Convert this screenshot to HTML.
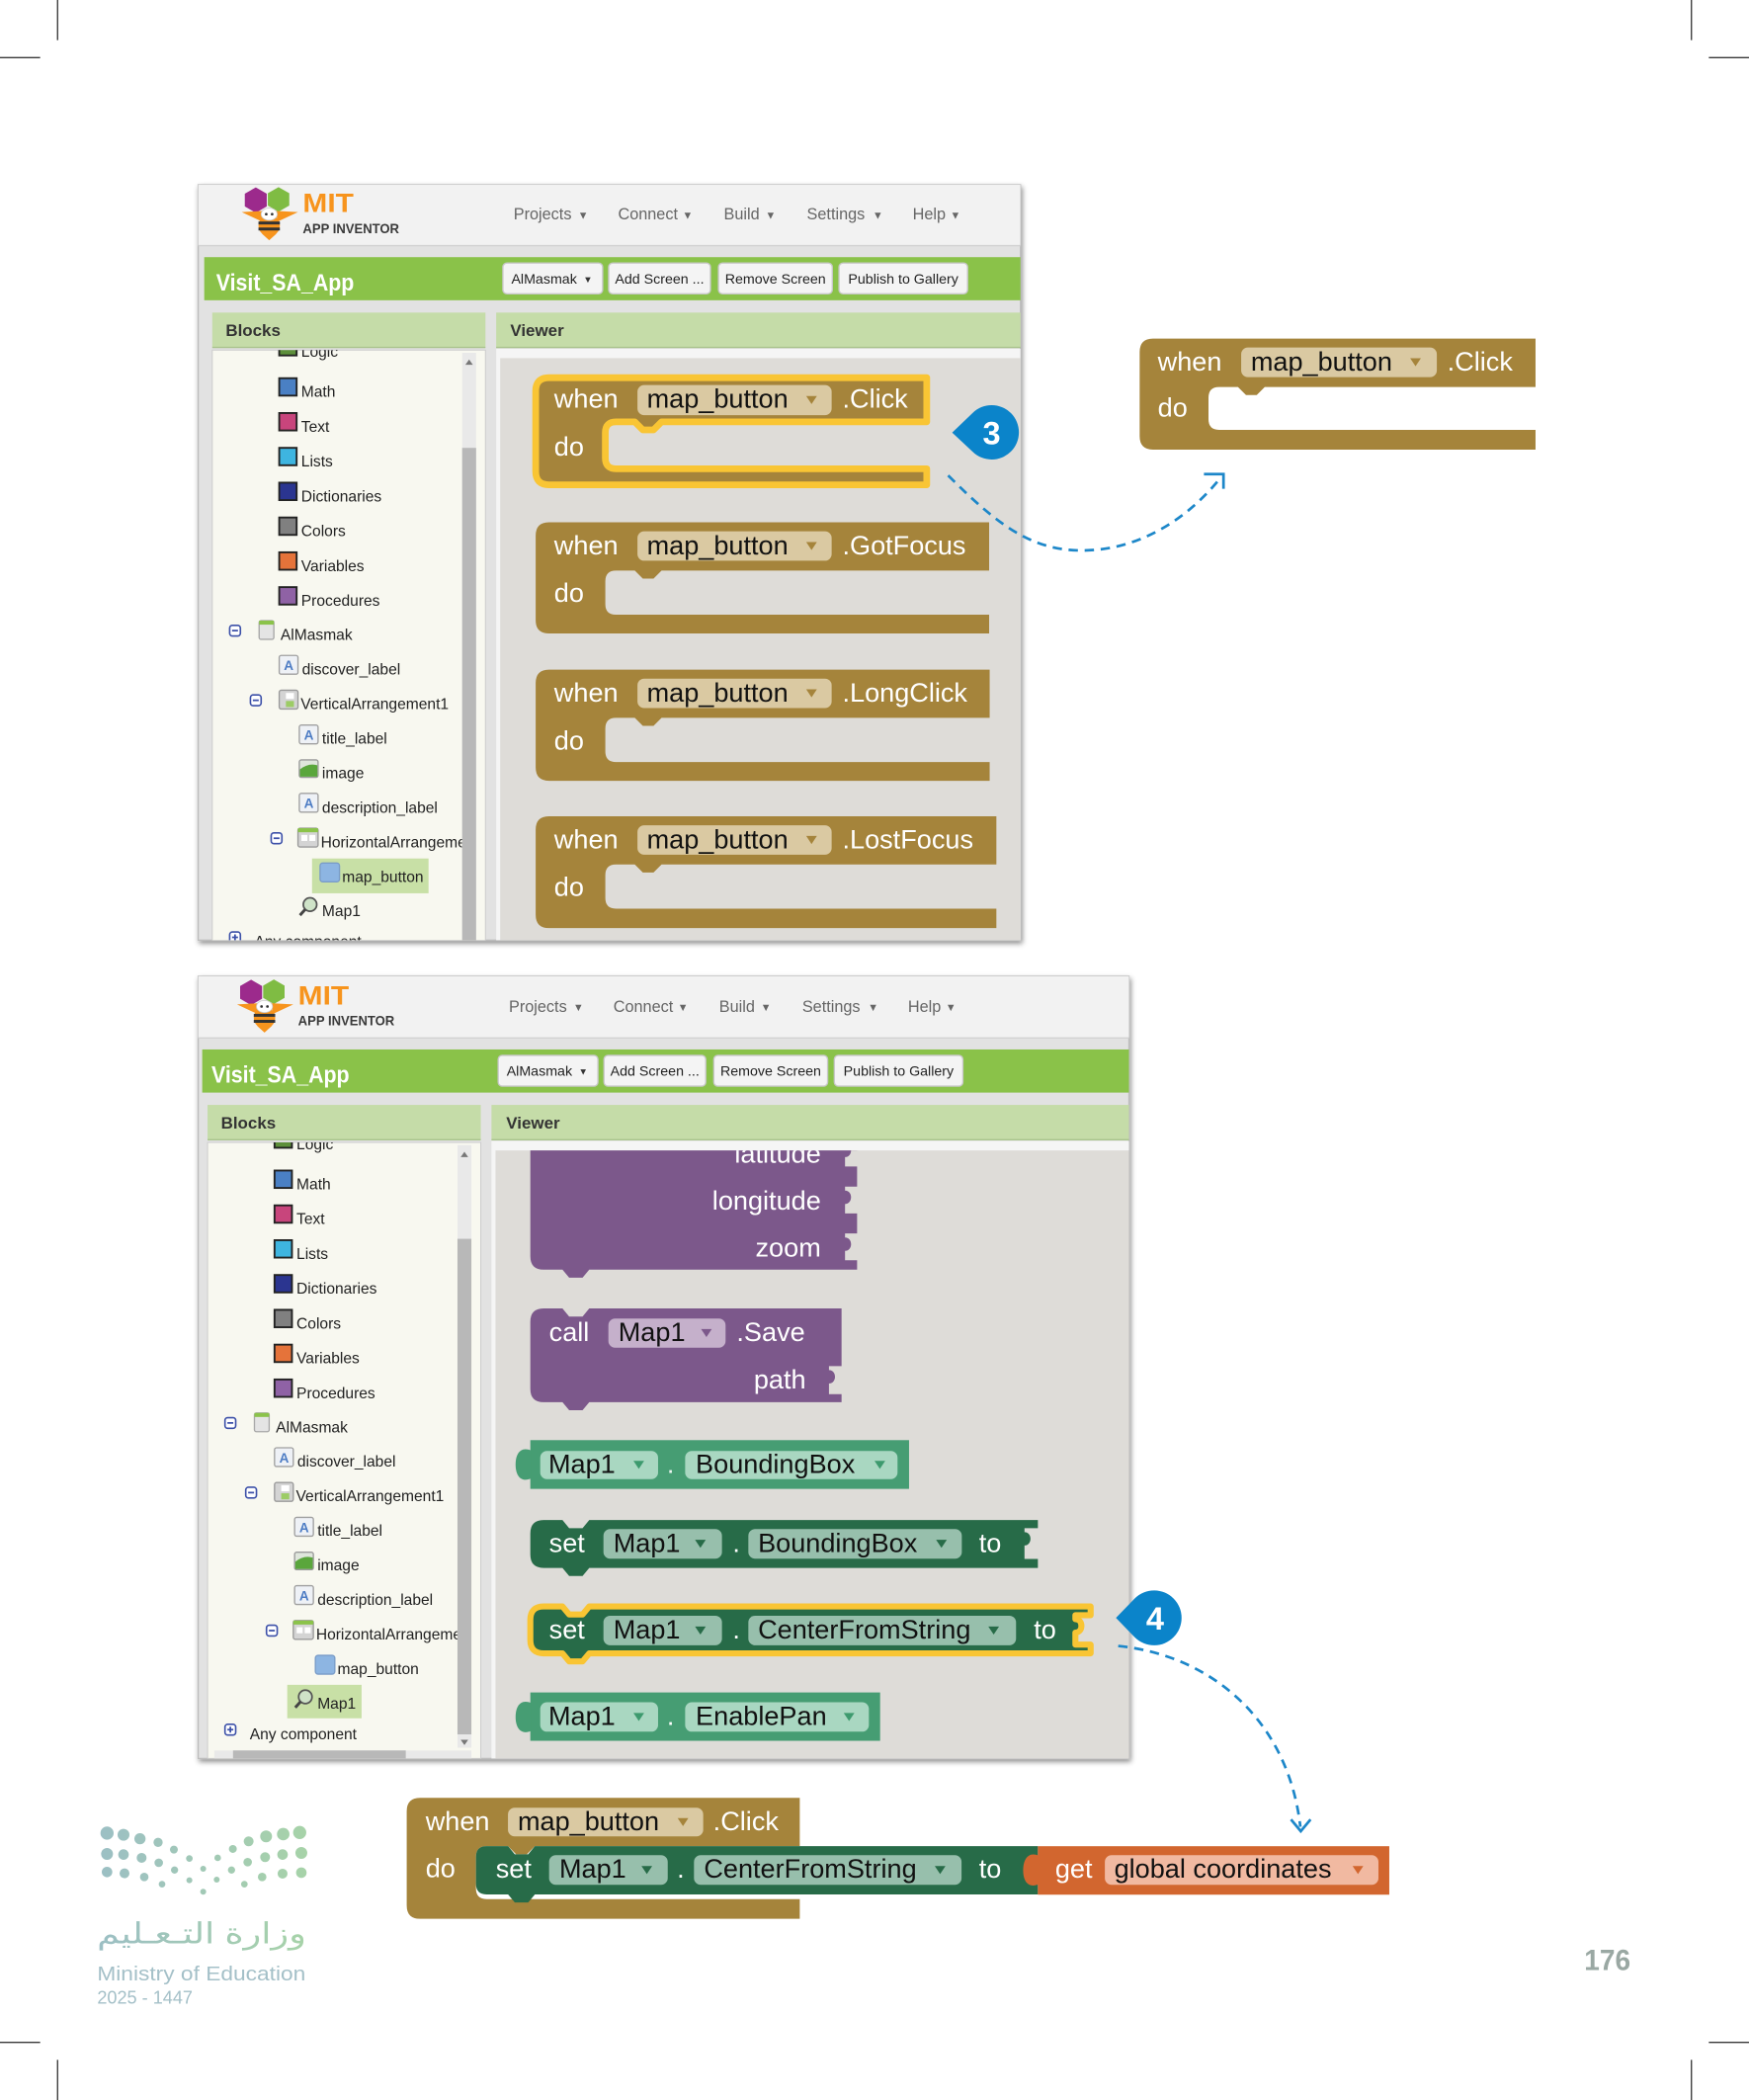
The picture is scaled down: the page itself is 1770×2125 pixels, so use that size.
<!DOCTYPE html>
<html><head><meta charset="utf-8"><style>
html,body{margin:0;padding:0;background:#fff;}
svg{display:block;}
text{font-family:"Liberation Sans",Arial,sans-serif;}
.w{fill:#fff;font-size:20px;}
.k{fill:#111;font-size:20px;}
.t{fill:#222;font-size:11.5px;}
.m{fill:#666;font-size:12px;}
.b{fill:#222;font-size:10.5px;}
</style></head><body>
<svg xmlns="http://www.w3.org/2000/svg" width="1770" height="2125" viewBox="0 0 1306 1568" preserveAspectRatio="none">
<defs>
<filter id="sh" x="-5%" y="-5%" width="110%" height="110%"><feDropShadow dx="1" dy="2" stdDeviation="2" flood-color="#000" flood-opacity="0.45"/></filter>
<clipPath id="cTopFrame"><rect x="148" y="138" width="614" height="564"/></clipPath>
<clipPath id="cBotFrame"><rect x="148" y="729" width="695" height="584"/></clipPath>
<clipPath id="cTree"><rect x="7" y="124" width="186.6" height="460"/></clipPath>
<clipPath id="cTopView"><rect x="373.5" y="267.4" width="388.5" height="434.6"/></clipPath>
<clipPath id="cBotView"><rect x="370" y="859" width="473" height="454"/></clipPath>
<linearGradient id="dg" gradientUnits="userSpaceOnUse" x1="60" y1="0" x2="700" y2="0"><stop offset="0" stop-color="#9cbfc4"/><stop offset="1" stop-color="#a7d3a8"/></linearGradient>
</defs>
<rect x="0" y="0" width="1306" height="1568" fill="#fff"/>

<!-- crop marks -->
<g stroke="#3a3a3a" stroke-width="1" fill="none">
<path d="M43 0 V30 M0 43 H30 M1263 0 V30 M1276 43 H1306 M0 1525 H30 M43 1538 V1568 M1276 1525 H1306 M1263 1538 V1568"/>
</g>

<!-- ================= TOP SCREENSHOT ================= -->
<rect x="148" y="138" width="614" height="564" fill="#e2e2e2" stroke="#bdbdbd" stroke-width="1" filter="url(#sh)"/>
<g clip-path="url(#cTopFrame)">
<rect x="148" y="138" width="614" height="45" fill="#f2f2f2"/>
<g transform="translate(151.5,137.4)">
 <line x1="-4" y1="46" x2="611" y2="46" stroke="#d2d2d2"/>
 <polygon points="39.5,2.5 47.7,7.25 47.7,16.75 39.5,21.5 31.3,16.75 31.3,7.25" fill="#9c2a8c"/>
 <polygon points="56.5,2.3 64.5,6.9 64.5,16.1 56.5,20.7 48.5,16.1 48.5,6.9" fill="#7fbc43"/>
 <path d="M29,21 L46,20 L44,28 Z M71,21 L54,20 L56,28 Z" fill="#f7941d"/>
 <ellipse cx="49.5" cy="31" rx="8" ry="8" fill="#f7941d"/>
 <rect x="41.5" y="28" width="16" height="2.2" fill="#333"/><rect x="41.5" y="32.5" width="16" height="2.2" fill="#333"/>
 <path d="M44,37 L49.5,42 L55,37 Z" fill="#f7941d"/>
 <ellipse cx="49.5" cy="22.5" rx="6" ry="4.5" fill="#fff" stroke="#ccc" stroke-width="0.6"/>
 <circle cx="47.3" cy="22.5" r="1" fill="#333"/><circle cx="51.7" cy="22.5" r="1" fill="#333"/>
 <text x="74.6" y="21" font-size="20" font-weight="bold" fill="#f7941d" textLength="38" lengthAdjust="spacingAndGlyphs">MIT</text>
 <text x="74.6" y="36.6" font-size="10" font-weight="bold" fill="#3a3a3a" textLength="72" lengthAdjust="spacingAndGlyphs">APP INVENTOR</text>
 <text x="232" y="26.5" class="m">Projects</text><text x="280" y="26" font-size="8" fill="#666">▼</text>
 <text x="310" y="26.5" class="m">Connect</text><text x="358" y="26" font-size="8" fill="#666">▼</text>
 <text x="389" y="26.5" class="m">Build</text><text x="420" y="26" font-size="8" fill="#666">▼</text>
 <text x="451" y="26.5" class="m">Settings</text><text x="500" y="26" font-size="8" fill="#666">▼</text>
 <text x="530" y="26.5" class="m">Help</text><text x="558" y="26" font-size="8" fill="#666">▼</text>
 <rect x="1" y="54.6" width="610" height="32.2" fill="#8ac249"/>
 <text x="9.9" y="79.5" font-size="18" font-weight="bold" fill="#fff" textLength="103" lengthAdjust="spacingAndGlyphs">Visit_SA_App</text>
 <rect x="224" y="59" width="74.5" height="23" rx="3" fill="#f4f4f4" stroke="#c8c8c8"/>
 <text x="230.3" y="74.2" class="b">AlMasmak</text><text x="284" y="73.5" font-size="7" fill="#333">▼</text>
 <rect x="303" y="59" width="76" height="23" rx="3" fill="#f4f4f4" stroke="#c8c8c8"/>
 <text x="341" y="74.2" class="b" text-anchor="middle">Add Screen ...</text>
 <rect x="385" y="59" width="85" height="23" rx="3" fill="#f4f4f4" stroke="#c8c8c8"/>
 <text x="427.5" y="74.2" class="b" text-anchor="middle">Remove Screen</text>
 <rect x="475" y="59" width="96" height="23" rx="3" fill="#f4f4f4" stroke="#c8c8c8"/>
 <text x="523" y="74.2" class="b" text-anchor="middle">Publish to Gallery</text>
 <rect x="7" y="96" width="204" height="26" fill="#c5dca8"/>
 <line x1="7" y1="122" x2="211" y2="122" stroke="#a9c38c"/>
 <text x="17" y="113.5" font-size="12.5" font-weight="bold" fill="#333">Blocks</text>
 <rect x="7" y="124" width="204" height="460" fill="#f8f8f0" stroke="#cfcfcf" stroke-width="0.8"/>
 <rect x="219" y="96" width="392" height="26" fill="#c5dca8"/>
 <line x1="219" y1="122" x2="611" y2="122" stroke="#a9c38c"/>
 <text x="229.5" y="113.5" font-size="12.5" font-weight="bold" fill="#333">Viewer</text>
 <rect x="219" y="123" width="392" height="462" fill="#f5f5f5"/>
 <rect x="222" y="130" width="389" height="454" fill="#dedcd8"/>
 <g clip-path="url(#cTree)">
  <rect x="81.5" y="503.6" width="87" height="26" fill="#c8e0a6"/>
  <rect x="57" y="115" width="13" height="13" fill="#5d8f3a" stroke="#222" stroke-width="1.4"/><text x="73.4" y="129" class="t">Logic</text>
  <rect x="57" y="145" width="13" height="13" fill="#4a80c4" stroke="#222" stroke-width="1.4"/><text x="73.4" y="159" class="t">Math</text>
  <rect x="57" y="171" width="13" height="13" fill="#c8457c" stroke="#222" stroke-width="1.4"/><text x="73.4" y="185" class="t">Text</text>
  <rect x="57" y="197" width="13" height="13" fill="#3eb5e0" stroke="#222" stroke-width="1.4"/><text x="73.4" y="211" class="t">Lists</text>
  <rect x="57" y="223" width="13" height="13" fill="#2b3590" stroke="#222" stroke-width="1.4"/><text x="73.4" y="237" class="t">Dictionaries</text>
  <rect x="57" y="249" width="13" height="13" fill="#808080" stroke="#222" stroke-width="1.4"/><text x="73.4" y="263" class="t">Colors</text>
  <rect x="57" y="275" width="13" height="13" fill="#e5733a" stroke="#222" stroke-width="1.4"/><text x="73.4" y="289" class="t">Variables</text>
  <rect x="57" y="301" width="13" height="13" fill="#8f62a5" stroke="#222" stroke-width="1.4"/><text x="73.4" y="315" class="t">Procedures</text>
  <rect x="20" y="329.5" width="8" height="8" rx="2" fill="#fff" stroke="#3c50a8" stroke-width="1.2"/><line x1="21.8" y1="333.5" x2="26.2" y2="333.5" stroke="#3c50a8" stroke-width="1.3"/>
  <rect x="42" y="326" width="11" height="14" rx="1.5" fill="#e4e4e4" stroke="#a8a8a8"/><rect x="42" y="326" width="11" height="3" fill="#8bc34a"/>
  <text x="58" y="340.4" class="t">AlMasmak</text>
  <rect x="57" y="352" width="14" height="14" rx="1.5" fill="#eef1f6" stroke="#a0a0a0"/><text x="60.5" y="363" font-size="10" font-weight="bold" fill="#4d7cc4">A</text>
  <text x="74" y="366.2" class="t">discover_label</text>
  <rect x="35.5" y="381.5" width="8" height="8" rx="2" fill="#fff" stroke="#3c50a8" stroke-width="1.2"/><line x1="37.3" y1="385.5" x2="41.7" y2="385.5" stroke="#3c50a8" stroke-width="1.3"/>
  <rect x="57" y="378" width="14" height="14" rx="1.5" fill="#d4d4d4" stroke="#9a9a9a"/><rect x="62" y="380" width="6" height="4.5" fill="#fff"/><rect x="62" y="386" width="6" height="4.5" fill="#9ccc65"/>
  <text x="73" y="392" class="t">VerticalArrangement1</text>
  <rect x="72" y="404" width="14" height="14" rx="1.5" fill="#eef1f6" stroke="#a0a0a0"/><text x="75.5" y="415" font-size="10" font-weight="bold" fill="#4d7cc4">A</text>
  <text x="89" y="417.8" class="t">title_label</text>
  <rect x="72" y="430" width="14" height="13" rx="1.5" fill="#dfe6dc" stroke="#9a9a9a"/><path d="M72.5,442.5 V437 Q79,432 85.5,434 V442.5 Z" fill="#5aa63c"/>
  <text x="89" y="443.6" class="t">image</text>
  <rect x="72" y="455" width="14" height="14" rx="1.5" fill="#eef1f6" stroke="#a0a0a0"/><text x="75.5" y="466" font-size="10" font-weight="bold" fill="#4d7cc4">A</text>
  <text x="89" y="469.4" class="t">description_label</text>
  <rect x="51" y="484.5" width="8" height="8" rx="2" fill="#fff" stroke="#3c50a8" stroke-width="1.2"/><line x1="52.8" y1="488.5" x2="57.2" y2="488.5" stroke="#3c50a8" stroke-width="1.3"/>
  <rect x="71" y="481" width="15" height="14" rx="1.5" fill="#d4d4d4" stroke="#9a9a9a"/><rect x="71" y="481" width="15" height="3" fill="#8bc34a"/><rect x="73.5" y="486" width="4.5" height="4.5" fill="#fff"/><rect x="79.5" y="486" width="4.5" height="4.5" fill="#fff"/>
  <text x="88" y="495.2" class="t">HorizontalArrangement1</text>
  <rect x="87.5" y="507" width="14.5" height="14" rx="2" fill="#8db5e2" stroke="#7a9cc8"/>
  <text x="104" y="521" class="t">map_button</text>
  <circle cx="80" cy="538" r="5" fill="#cfe3c8" stroke="#555" stroke-width="1.3"/><line x1="76.5" y1="541.5" x2="72.5" y2="546" stroke="#444" stroke-width="2.2"/>
  <text x="89" y="546.8" class="t">Map1</text>
  <rect x="20" y="558.5" width="8" height="8" rx="2" fill="#fff" stroke="#3c50a8" stroke-width="1.2"/><line x1="21.8" y1="562.5" x2="26.2" y2="562.5" stroke="#3c50a8" stroke-width="1.3"/><line x1="24" y1="560.3" x2="24" y2="564.7" stroke="#3c50a8" stroke-width="1.3"/>
  <text x="38.5" y="569.6" class="t">Any component</text>
 </g>
 <rect x="193.6" y="126" width="10.4" height="458" fill="#e9e9e9"/>
 <rect x="193.6" y="197" width="10.4" height="387" fill="#b8b8b8"/>
 <path d="M196,135 L198.8,131 L201.6,135 Z" fill="#777"/>
</g>

<!-- top viewer blocks -->
<g clip-path="url(#cTopView)">
 <path d="M410,282 H692 V315 H494 l-6,6 h-8 l-6,-6 H460 Q452,315 452,323 V342 Q452,350 460,350 H692 V362 H410 Q400,362 400,352 V292 Q400,282 410,282 Z" fill="#a5843b" stroke="#f9c534" stroke-width="5" stroke-linejoin="round"/>
 <text x="413.8" y="304.5" class="w">when</text>
 <rect x="476" y="287.5" width="145" height="22.5" rx="5" fill="#dac9a2"/>
 <text x="483" y="304.5" class="k">map_button</text>
 <path d="M602,295.7 h8 l-4,6 Z" fill="#a5843b"/>
 <text x="629" y="304.5" class="w">.Click</text>
 <text x="413.8" y="340" class="w">do</text>

 <path d="M410,390 H738.6 V426 H494 l-6,6 h-8 l-6,-6 H460 Q452,426 452,434 V451 Q452,459 460,459 H738.6 V473 H410 Q400,473 400,463 V400 Q400,390 410,390 Z" fill="#a5843b"/>
 <text x="413.8" y="414" class="w">when</text>
 <rect x="476" y="396.7" width="145" height="22" rx="5" fill="#dac9a2"/>
 <text x="483" y="414" class="k">map_button</text>
 <path d="M602,404.7 h8 l-4,6 Z" fill="#a5843b"/>
 <text x="629" y="414" class="w">.GotFocus</text>
 <text x="413.8" y="449.5" class="w">do</text>

 <path d="M410,500 H739 V536 H494 l-6,6 h-8 l-6,-6 H460 Q452,536 452,544 V561 Q452,569 460,569 H739 V583 H410 Q400,583 400,573 V510 Q400,500 410,500 Z" fill="#a5843b"/>
 <text x="413.8" y="524" class="w">when</text>
 <rect x="476" y="506.7" width="145" height="22" rx="5" fill="#dac9a2"/>
 <text x="483" y="524" class="k">map_button</text>
 <path d="M602,514.7 h8 l-4,6 Z" fill="#a5843b"/>
 <text x="629" y="524" class="w">.LongClick</text>
 <text x="413.8" y="559.5" class="w">do</text>

 <path d="M410,609.5 H744 V645.5 H494 l-6,6 h-8 l-6,-6 H460 Q452,645.5 452,653.5 V670.5 Q452,678.5 460,678.5 H744 V693 H410 Q400,693 400,683 V619.5 Q400,609.5 410,609.5 Z" fill="#a5843b"/>
 <text x="413.8" y="633.5" class="w">when</text>
 <rect x="476" y="616.2" width="145" height="22" rx="5" fill="#dac9a2"/>
 <text x="483" y="633.5" class="k">map_button</text>
 <path d="M602,624.2 h8 l-4,6 Z" fill="#a5843b"/>
 <text x="629" y="633.5" class="w">.LostFocus</text>
 <text x="413.8" y="669" class="w">do</text>
</g>
</g>

<!-- ================= BOTTOM SCREENSHOT ================= -->
<rect x="148" y="729" width="695" height="584" fill="#e2e2e2" stroke="#bdbdbd" stroke-width="1" filter="url(#sh)"/>
<g clip-path="url(#cBotFrame)">
<rect x="148" y="729" width="695" height="46" fill="#f2f2f2"/>
<g transform="translate(148,729)">
 <line x1="0" y1="46" x2="695" y2="46" stroke="#d2d2d2"/>
 <polygon points="39.5,2.5 47.7,7.25 47.7,16.75 39.5,21.5 31.3,16.75 31.3,7.25" fill="#9c2a8c"/>
 <polygon points="56.5,2.3 64.5,6.9 64.5,16.1 56.5,20.7 48.5,16.1 48.5,6.9" fill="#7fbc43"/>
 <path d="M29,21 L46,20 L44,28 Z M71,21 L54,20 L56,28 Z" fill="#f7941d"/>
 <ellipse cx="49.5" cy="31" rx="8" ry="8" fill="#f7941d"/>
 <rect x="41.5" y="28" width="16" height="2.2" fill="#333"/><rect x="41.5" y="32.5" width="16" height="2.2" fill="#333"/>
 <path d="M44,37 L49.5,42 L55,37 Z" fill="#f7941d"/>
 <ellipse cx="49.5" cy="22.5" rx="6" ry="4.5" fill="#fff" stroke="#ccc" stroke-width="0.6"/>
 <circle cx="47.3" cy="22.5" r="1" fill="#333"/><circle cx="51.7" cy="22.5" r="1" fill="#333"/>
 <text x="74.6" y="21" font-size="20" font-weight="bold" fill="#f7941d" textLength="38" lengthAdjust="spacingAndGlyphs">MIT</text>
 <text x="74.6" y="36.6" font-size="10" font-weight="bold" fill="#3a3a3a" textLength="72" lengthAdjust="spacingAndGlyphs">APP INVENTOR</text>
 <text x="232" y="26.5" class="m">Projects</text><text x="280" y="26" font-size="8" fill="#666">▼</text>
 <text x="310" y="26.5" class="m">Connect</text><text x="358" y="26" font-size="8" fill="#666">▼</text>
 <text x="389" y="26.5" class="m">Build</text><text x="420" y="26" font-size="8" fill="#666">▼</text>
 <text x="451" y="26.5" class="m">Settings</text><text x="500" y="26" font-size="8" fill="#666">▼</text>
 <text x="530" y="26.5" class="m">Help</text><text x="558" y="26" font-size="8" fill="#666">▼</text>
 <rect x="3" y="54.6" width="692" height="32.2" fill="#8ac249"/>
 <text x="9.9" y="79.5" font-size="18" font-weight="bold" fill="#fff" textLength="103" lengthAdjust="spacingAndGlyphs">Visit_SA_App</text>
 <rect x="224" y="59" width="74.5" height="23" rx="3" fill="#f4f4f4" stroke="#c8c8c8"/>
 <text x="230.3" y="74.2" class="b">AlMasmak</text><text x="284" y="73.5" font-size="7" fill="#333">▼</text>
 <rect x="303" y="59" width="76" height="23" rx="3" fill="#f4f4f4" stroke="#c8c8c8"/>
 <text x="341" y="74.2" class="b" text-anchor="middle">Add Screen ...</text>
 <rect x="385" y="59" width="85" height="23" rx="3" fill="#f4f4f4" stroke="#c8c8c8"/>
 <text x="427.5" y="74.2" class="b" text-anchor="middle">Remove Screen</text>
 <rect x="475" y="59" width="96" height="23" rx="3" fill="#f4f4f4" stroke="#c8c8c8"/>
 <text x="523" y="74.2" class="b" text-anchor="middle">Publish to Gallery</text>
 <rect x="7" y="96" width="204" height="26" fill="#c5dca8"/>
 <line x1="7" y1="122" x2="211" y2="122" stroke="#a9c38c"/>
 <text x="17" y="113.5" font-size="12.5" font-weight="bold" fill="#333">Blocks</text>
 <rect x="7" y="124" width="204" height="460" fill="#f8f8f0" stroke="#cfcfcf" stroke-width="0.8"/>
 <rect x="219" y="96" width="476" height="26" fill="#c5dca8"/>
 <line x1="219" y1="122" x2="695" y2="122" stroke="#a9c38c"/>
 <text x="230" y="113.5" font-size="12.5" font-weight="bold" fill="#333">Viewer</text>
 <rect x="219" y="123" width="476" height="462" fill="#f5f5f5"/>
 <rect x="222" y="130" width="473" height="454" fill="#dedcd8"/>
 <g clip-path="url(#cTree)">
  <rect x="66.5" y="529" width="55.5" height="25" fill="#c8e0a6"/>
  <rect x="57" y="115" width="13" height="13" fill="#5d8f3a" stroke="#222" stroke-width="1.4"/><text x="73.4" y="129" class="t">Logic</text>
  <rect x="57" y="145" width="13" height="13" fill="#4a80c4" stroke="#222" stroke-width="1.4"/><text x="73.4" y="159" class="t">Math</text>
  <rect x="57" y="171" width="13" height="13" fill="#c8457c" stroke="#222" stroke-width="1.4"/><text x="73.4" y="185" class="t">Text</text>
  <rect x="57" y="197" width="13" height="13" fill="#3eb5e0" stroke="#222" stroke-width="1.4"/><text x="73.4" y="211" class="t">Lists</text>
  <rect x="57" y="223" width="13" height="13" fill="#2b3590" stroke="#222" stroke-width="1.4"/><text x="73.4" y="237" class="t">Dictionaries</text>
  <rect x="57" y="249" width="13" height="13" fill="#808080" stroke="#222" stroke-width="1.4"/><text x="73.4" y="263" class="t">Colors</text>
  <rect x="57" y="275" width="13" height="13" fill="#e5733a" stroke="#222" stroke-width="1.4"/><text x="73.4" y="289" class="t">Variables</text>
  <rect x="57" y="301" width="13" height="13" fill="#8f62a5" stroke="#222" stroke-width="1.4"/><text x="73.4" y="315" class="t">Procedures</text>
  <rect x="20" y="329.5" width="8" height="8" rx="2" fill="#fff" stroke="#3c50a8" stroke-width="1.2"/><line x1="21.8" y1="333.5" x2="26.2" y2="333.5" stroke="#3c50a8" stroke-width="1.3"/>
  <rect x="42" y="326" width="11" height="14" rx="1.5" fill="#e4e4e4" stroke="#a8a8a8"/><rect x="42" y="326" width="11" height="3" fill="#8bc34a"/>
  <text x="58" y="340.4" class="t">AlMasmak</text>
  <rect x="57" y="352" width="14" height="14" rx="1.5" fill="#eef1f6" stroke="#a0a0a0"/><text x="60.5" y="363" font-size="10" font-weight="bold" fill="#4d7cc4">A</text>
  <text x="74" y="366.2" class="t">discover_label</text>
  <rect x="35.5" y="381.5" width="8" height="8" rx="2" fill="#fff" stroke="#3c50a8" stroke-width="1.2"/><line x1="37.3" y1="385.5" x2="41.7" y2="385.5" stroke="#3c50a8" stroke-width="1.3"/>
  <rect x="57" y="378" width="14" height="14" rx="1.5" fill="#d4d4d4" stroke="#9a9a9a"/><rect x="62" y="380" width="6" height="4.5" fill="#fff"/><rect x="62" y="386" width="6" height="4.5" fill="#9ccc65"/>
  <text x="73" y="392" class="t">VerticalArrangement1</text>
  <rect x="72" y="404" width="14" height="14" rx="1.5" fill="#eef1f6" stroke="#a0a0a0"/><text x="75.5" y="415" font-size="10" font-weight="bold" fill="#4d7cc4">A</text>
  <text x="89" y="417.8" class="t">title_label</text>
  <rect x="72" y="430" width="14" height="13" rx="1.5" fill="#dfe6dc" stroke="#9a9a9a"/><path d="M72.5,442.5 V437 Q79,432 85.5,434 V442.5 Z" fill="#5aa63c"/>
  <text x="89" y="443.6" class="t">image</text>
  <rect x="72" y="455" width="14" height="14" rx="1.5" fill="#eef1f6" stroke="#a0a0a0"/><text x="75.5" y="466" font-size="10" font-weight="bold" fill="#4d7cc4">A</text>
  <text x="89" y="469.4" class="t">description_label</text>
  <rect x="51" y="484.5" width="8" height="8" rx="2" fill="#fff" stroke="#3c50a8" stroke-width="1.2"/><line x1="52.8" y1="488.5" x2="57.2" y2="488.5" stroke="#3c50a8" stroke-width="1.3"/>
  <rect x="71" y="481" width="15" height="14" rx="1.5" fill="#d4d4d4" stroke="#9a9a9a"/><rect x="71" y="481" width="15" height="3" fill="#8bc34a"/><rect x="73.5" y="486" width="4.5" height="4.5" fill="#fff"/><rect x="79.5" y="486" width="4.5" height="4.5" fill="#fff"/>
  <text x="88" y="495.2" class="t">HorizontalArrangement1</text>
  <rect x="87.5" y="507" width="14.5" height="14" rx="2" fill="#8db5e2" stroke="#7a9cc8"/>
  <text x="104" y="521" class="t">map_button</text>
  <circle cx="80" cy="538" r="5" fill="#cfe3c8" stroke="#555" stroke-width="1.3"/><line x1="76.5" y1="541.5" x2="72.5" y2="546" stroke="#444" stroke-width="2.2"/>
  <text x="89" y="546.8" class="t">Map1</text>
  <rect x="20" y="558.5" width="8" height="8" rx="2" fill="#fff" stroke="#3c50a8" stroke-width="1.2"/><line x1="21.8" y1="562.5" x2="26.2" y2="562.5" stroke="#3c50a8" stroke-width="1.3"/><line x1="24" y1="560.3" x2="24" y2="564.7" stroke="#3c50a8" stroke-width="1.3"/>
  <text x="38.5" y="569.6" class="t">Any component</text>
 </g>
 <rect x="193.6" y="126" width="10.4" height="450" fill="#e9e9e9"/>
 <rect x="193.6" y="196" width="10.4" height="370" fill="#b8b8b8"/>
 <path d="M196,135 L198.8,131 L201.6,135 Z" fill="#777"/>
 <path d="M196,570 L198.8,574 L201.6,570 Z" fill="#777"/>
 <rect x="12" y="578" width="192" height="6" fill="#e9e9e9"/>
 <rect x="26" y="578" width="129" height="6" fill="#b8b8b8"/>
</g>

<!-- bottom viewer blocks -->
<g clip-path="url(#cBotView)">
 <path d="M396,845 H640 V948 H440 l-5,6 h-10 l-5,-6 H406 Q396,948 396,938 Z" fill="#7c588b"/>
 <path d="M641,851 H631 V854 C637,854 637,864 631,864 V871 H641 Z" fill="#dedcd8"/>
 <path d="M641,886 H631 V889 C637,889 637,899 631,899 V906 H641 Z" fill="#dedcd8"/>
 <path d="M641,921 H631 V924 C637,924 637,934 631,934 V941 H641 Z" fill="#dedcd8"/>
 <text x="613" y="868" class="w" text-anchor="end">latitude</text>
 <text x="613" y="903" class="w" text-anchor="end">longitude</text>
 <text x="613" y="938.3" class="w" text-anchor="end">zoom</text>

 <path d="M406,977 H420 l5,6 h10 l5,-6 H628.4 V1047 H440 l-5,6 h-10 l-5,-6 H406 Q396,1047 396,1037 V987 Q396,977 406,977 Z" fill="#7c588b"/>
 <path d="M629.5,1020 H619 V1023 C625,1023 625,1033 619,1033 V1041 H629.5 Z" fill="#dedcd8"/>
 <text x="410" y="1001.4" class="w">call</text>
 <rect x="454.3" y="984.5" width="87.5" height="21.8" rx="5" fill="#c5b0cb"/>
 <text x="461.7" y="1001.4" class="k">Map1</text>
 <path d="M523.5,992.4 h8 l-4,6 Z" fill="#7c588b"/>
 <text x="550" y="1001.4" class="w">.Save</text>
 <text x="601.8" y="1036.7" class="w" text-anchor="end">path</text>

 <rect x="396" y="1075.3" width="282.8" height="36.4" fill="#469d73"/>
 <path d="M396.5,1083 C389,1080 385,1085 385,1093.5 C385,1102 389,1107 396.5,1104 Z" fill="#469d73"/>
 <rect x="403.4" y="1083.4" width="88" height="21" rx="5" fill="#a9d7c1"/>
 <text x="409.5" y="1099.8" class="k">Map1</text>
 <path d="M473,1090.8 h8 l-4,6 Z" fill="#3d9a6e"/>
 <text x="498" y="1099.8" class="w" fill-opacity="0.9">.</text>
 <rect x="511.6" y="1083.4" width="158.6" height="21" rx="5" fill="#a9d7c1"/>
 <text x="519.5" y="1099.8" class="k">BoundingBox</text>
 <path d="M653,1090.8 h8 l-4,6 Z" fill="#3d9a6e"/>

 <path d="M406,1135 H420 l5,6 h10 l5,-6 H775 V1170.7 H440 l-5,6 h-10 l-5,-6 H406 Q396,1170.7 396,1160.7 V1145 Q396,1135 406,1135 Z" fill="#276b48"/>
 <path d="M776,1141 H765 V1144 C771,1144 771,1154 765,1154 V1164 H776 Z" fill="#dedcd8"/>
 <text x="410" y="1158.7" class="w">set</text>
 <rect x="450.6" y="1141.7" width="88.5" height="22.1" rx="5" fill="#97bfac"/>
 <text x="458" y="1158.7" class="k">Map1</text>
 <path d="M519,1149.7 h8 l-4,6 Z" fill="#276b48"/>
 <text x="547" y="1158.7" class="w">.</text>
 <rect x="558.8" y="1141.7" width="159.4" height="22.1" rx="5" fill="#97bfac"/>
 <text x="566" y="1158.7" class="k">BoundingBox</text>
 <path d="M699,1149.7 h8 l-4,6 Z" fill="#276b48"/>
 <text x="731" y="1158.7" class="w">to</text>

 <path d="M406,1199.5 H420 l5,6 h10 l5,-6 H814.4 V1206 H803 V1209 C809,1209 809,1219 803,1219 V1228 H814.4 V1234.5 H440 l-5,6 h-10 l-5,-6 H406 Q396,1234.5 396,1224.5 V1209.5 Q396,1199.5 406,1199.5 Z" fill="#276b48" stroke="#f9c534" stroke-width="4.5" stroke-linejoin="round"/>
 <text x="410" y="1223.5" class="w">set</text>
 <rect x="450.6" y="1206.4" width="88.5" height="22.1" rx="5" fill="#97bfac"/>
 <text x="458" y="1223.5" class="k">Map1</text>
 <path d="M519,1214.5 h8 l-4,6 Z" fill="#276b48"/>
 <text x="547" y="1223.5" class="w">.</text>
 <rect x="558.8" y="1206.4" width="199.9" height="22.1" rx="5" fill="#97bfac"/>
 <text x="566" y="1223.5" class="k">CenterFromString</text>
 <path d="M738,1214.5 h8 l-4,6 Z" fill="#276b48"/>
 <text x="772" y="1223.5" class="w">to</text>

 <rect x="396" y="1263.7" width="261.2" height="36.1" fill="#469d73"/>
 <path d="M396.5,1271.5 C389,1268.5 385,1273.5 385,1282 C385,1290.5 389,1295.5 396.5,1292.5 Z" fill="#469d73"/>
 <rect x="403.4" y="1271" width="88" height="22" rx="5" fill="#a9d7c1"/>
 <text x="409.5" y="1288" class="k">Map1</text>
 <path d="M473,1279 h8 l-4,6 Z" fill="#3d9a6e"/>
 <text x="498" y="1288" class="w">.</text>
 <rect x="511.6" y="1271" width="137.2" height="22" rx="5" fill="#a9d7c1"/>
 <text x="519.5" y="1288" class="k">EnablePan</text>
 <path d="M630,1279 h8 l-4,6 Z" fill="#3d9a6e"/>
</g>
</g>

<!-- ================= RIGHT BLOCK ================= -->
<path d="M861,252.8 H1146.6 V289 H944.4 l-6,6 h-8 l-6,-6 H910.4 Q902.4,289 902.4,297 V313 Q902.4,321 910.4,321 H1146.6 V335.7 H861 Q851,335.7 851,325.7 V262.8 Q851,252.8 861,252.8 Z" fill="#a5843b"/>
<text x="864.5" y="276.7" class="w">when</text>
<rect x="926.8" y="259.5" width="146.1" height="22.1" rx="5" fill="#dac9a2"/>
<text x="934" y="276.7" class="k">map_button</text>
<path d="M1053,267.5 h8 l-4,6 Z" fill="#a5843b"/>
<text x="1080.7" y="276.7" class="w">.Click</text>
<text x="864.5" y="311.1" class="w">do</text>

<!-- ================= FINAL BLOCK ================= -->
<path d="M313.7,1342.4 H597.2 V1378.5 H399.4 l-6,6 h-8 l-6,-6 H363.4 Q355.4,1378.5 355.4,1386.5 V1410 Q355.4,1418 363.4,1418 H597.2 V1432.7 H313.7 Q303.7,1432.7 303.7,1422.7 V1352.4 Q303.7,1342.4 313.7,1342.4 Z" fill="#a5843b"/>
<text x="317.8" y="1366.5" class="w">when</text>
<rect x="379.3" y="1349.8" width="145.8" height="21.4" rx="5" fill="#dac9a2"/>
<text x="386.6" y="1366.5" class="k">map_button</text>
<path d="M506,1357.5 h8 l-4,6 Z" fill="#a5843b"/>
<text x="532.5" y="1366.5" class="w">.Click</text>
<text x="317.8" y="1401.5" class="w">do</text>

<path d="M363.4,1378.5 H379.4 l5,6 h10 l5,-6 H775 V1414.5 H399.4 l-5,6 h-10 l-5,-6 H363.4 Q355.4,1414.5 355.4,1406.5 V1386.5 Q355.4,1378.5 363.4,1378.5 Z" fill="#276b48"/>
<text x="370.2" y="1402" class="w">set</text>
<rect x="410" y="1385.2" width="88.6" height="22.1" rx="5" fill="#97bfac"/>
<text x="417.6" y="1402" class="k">Map1</text>
<path d="M479,1393.3 h8 l-4,6 Z" fill="#276b48"/>
<text x="505.5" y="1402" class="w">.</text>
<rect x="518.2" y="1385.2" width="199.8" height="22.1" rx="5" fill="#97bfac"/>
<text x="525.6" y="1402" class="k">CenterFromString</text>
<path d="M698,1393.3 h8 l-4,6 Z" fill="#276b48"/>
<text x="731" y="1402" class="w">to</text>

<rect x="775" y="1378.5" width="262.4" height="36.2" fill="#d2662f"/>
<path d="M775.5,1385.5 C768,1382.5 764,1388 764,1396.5 C764,1405 768,1410 775.5,1407 Z" fill="#d2662f"/>
<text x="787.9" y="1402" class="w">get</text>
<rect x="825" y="1385.2" width="204.3" height="22.1" rx="5" fill="#f1b9a1"/>
<text x="832" y="1402" class="k">global coordinates</text>
<path d="M1010,1393.3 h8 l-4,6 Z" fill="#d2662f"/>

<!-- ================= ARROWS & BADGES ================= -->
<g fill="none" stroke="#1d87c9" stroke-width="2">
 <path d="M708,355 C745,392 770,411 808,411 C848,411 885,390 912,356" stroke-dasharray="7 5"/>
 <path d="M899,354 H913.6 V365"/>
 <path d="M835,1229 C905,1236 962,1285 971,1364" stroke-dasharray="7 5"/>
 <path d="M964,1358.5 L971.3,1367.3 L978.6,1358.5"/>
</g>
<path d="M711,323 L726.2,308.4 A20.3,20.3 0 1 1 726.2,337.2 Z" fill="#0b84ca"/>
<text x="740.5" y="331.8" text-anchor="middle" font-size="24" font-weight="bold" fill="#fff">3</text>
<path d="M833.3,1208 L847.5,1193.3 A20.5,20.5 0 1 1 847.5,1222.7 Z" fill="#0b84ca"/>
<text x="862.5" y="1216.8" text-anchor="middle" font-size="24" font-weight="bold" fill="#fff">4</text>

<!-- ================= LOGO ================= -->
<g transform="translate(59.03,1350.3) scale(0.2459)">
 <g fill="url(#dg)">
  <circle cx="85" cy="75" r="20"/><circle cx="135" cy="80" r="18"/><circle cx="185" cy="92" r="17"/><circle cx="240" cy="103" r="14"/><circle cx="288" cy="125" r="12"/><circle cx="335" cy="152" r="10"/><circle cx="377" cy="183" r="9"/>
  <circle cx="85" cy="138" r="18"/><circle cx="135" cy="140" r="16"/><circle cx="190" cy="150" r="15"/><circle cx="242" cy="165" r="13"/><circle cx="290" cy="187" r="11"/><circle cx="335" cy="218" r="9"/><circle cx="377" cy="253" r="9"/>
  <circle cx="85" cy="193" r="16"/><circle cx="138" cy="197" r="15"/><circle cx="198" cy="208" r="13"/><circle cx="252" cy="230" r="10"/>
  <circle cx="670" cy="73" r="20"/><circle cx="620" cy="78" r="19"/><circle cx="568" cy="85" r="18"/><circle cx="515" cy="100" r="15"/><circle cx="467" cy="123" r="12"/><circle cx="421" cy="150" r="10"/>
  <circle cx="675" cy="135" r="18"/><circle cx="618" cy="140" r="16"/><circle cx="565" cy="148" r="15"/><circle cx="512" cy="163" r="13"/><circle cx="463" cy="187" r="11"/><circle cx="418" cy="216" r="9"/>
  <circle cx="675" cy="195" r="16"/><circle cx="618" cy="198" r="15"/><circle cx="556" cy="208" r="13"/><circle cx="502" cy="230" r="10"/>
 </g>
 <text x="372" y="410" text-anchor="middle" font-family="DejaVu Sans, sans-serif" font-size="88" textLength="635" lengthAdjust="spacingAndGlyphs" fill="url(#dg)" direction="rtl">وزارة التـعـليم</text>
 <text x="55" y="522" font-size="62" fill="#a4c0c8" textLength="633" lengthAdjust="spacingAndGlyphs">Ministry of Education</text>
 <text x="55" y="593" font-size="55" fill="#a4c0c8" textLength="290" lengthAdjust="spacingAndGlyphs">2025 - 1447</text>
</g>

<text x="1183" y="1471" font-size="22" font-weight="bold" fill="#9aa8a3" textLength="34.5" lengthAdjust="spacingAndGlyphs">176</text>
</svg>
</body></html>
